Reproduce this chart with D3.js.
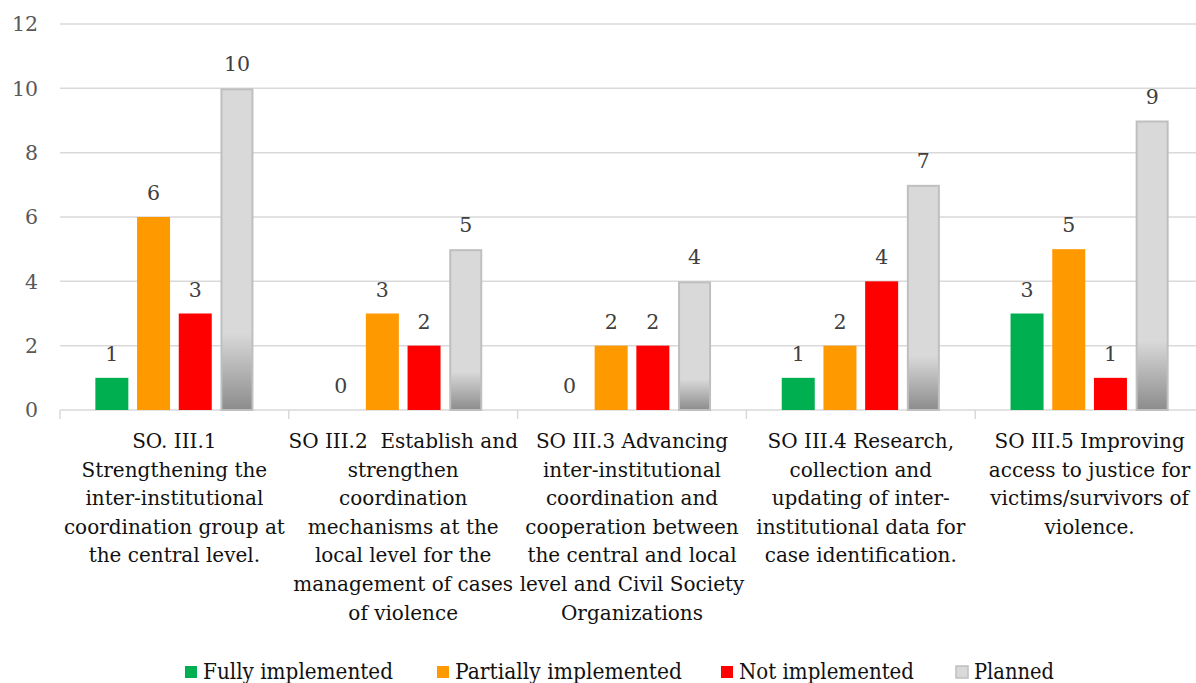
<!DOCTYPE html>
<html>
<head>
<meta charset="utf-8">
<script src="https://cdn.jsdelivr.net/npm/d3@7"></script>
<style>
  html, body { margin: 0; padding: 0; background: #fff; }
  svg { display: block; }
</style>
</head>
<body>
<svg id="chart" width="1196" height="683"></svg>
<script>
const categories = [
  ["SO. III.1", "Strengthening the", "inter-institutional", "coordination group at", "the central level."],
  ["SO III.2  Establish and", "strengthen", "coordination", "mechanisms at the", "local level for the", "management of cases", "of violence"],
  ["SO III.3 Advancing", "inter-institutional", "coordination and", "cooperation between", "the central and local", "level and Civil Society", "Organizations"],
  ["SO III.4 Research,", "collection and", "updating of inter-", "institutional data for", "case identification."],
  ["SO III.5 Improving", "access to justice for", "victims/survivors of", "violence."]
];
const seriesNames = ["Fully implemented", "Partially implemented", "Not implemented", "Planned"];
const fully = [1, 0, 0, 1, 3];
const partially = [6, 3, 2, 2, 5];
const notImpl = [3, 2, 2, 4, 1];
const planned = [10, 5, 4, 7, 9];
const yTicks = [0, 2, 4, 6, 8, 10, 12];

const seriesValues = [fully, partially, notImpl, planned];
const colors = ["#00b050", "#ff9900", "#ff0000", "url(#grayGrad)"];

const svg = d3.select("#chart");
const FONT = "'DejaVu Serif', 'Liberation Serif', serif";

const W = 1196;
const x0 = d3.scaleBand().domain(d3.range(categories.length)).range([60, 1204]).paddingInner(0).paddingOuter(0);
const bw = 33, gap = 8.7;
const groupW = 4 * bw + 3 * gap;
const y = d3.scaleLinear().domain([0, 12]).range([410, 24]);

// gradient for planned bars
const defs = svg.append("defs");
const g = defs.append("linearGradient").attr("id", "grayGrad").attr("x1", 0).attr("y1", 0).attr("x2", 0).attr("y2", 1);
g.append("stop").attr("offset", "0%").attr("stop-color", "#d9d9d9");
g.append("stop").attr("offset", "76%").attr("stop-color", "#d9d9d9");
g.append("stop").attr("offset", "100%").attr("stop-color", "#8c8c8c");

// gridlines
svg.append("g").selectAll("line").data(yTicks).join("line")
  .attr("x1", 60).attr("x2", W)
  .attr("y1", d => y(d)).attr("y2", d => y(d))
  .attr("stroke", "#d9d9d9").attr("stroke-width", 1.5);

// y tick labels
svg.append("g").selectAll("text").data(yTicks).join("text")
  .attr("x", 38).attr("y", d => y(d)).attr("dy", "0.36em")
  .attr("text-anchor", "end")
  .attr("font-family", FONT).attr("font-size", 20.5).attr("fill", "#595959")
  .text(d => d);

// category tick marks
svg.append("g").selectAll("line").data(d3.range(categories.length)).join("line")
  .attr("x1", d => x0(d)).attr("x2", d => x0(d))
  .attr("y1", 410).attr("y2", 419)
  .attr("stroke", "#d9d9d9").attr("stroke-width", 1.5);

// bars
const barX = (ci, si) => x0(ci) + x0.bandwidth() / 2 - groupW / 2 + si * (bw + gap);
seriesValues.forEach((vals, si) => {
  const gg = svg.append("g");
  const isP = si === 3;
  gg.selectAll("rect").data(vals).join("rect")
    .attr("x", (d, i) => barX(i, si) + (isP ? 1 : 0))
    .attr("y", d => y(d) + (isP ? 1 : 0))
    .attr("width", bw - (isP ? 2 : 0))
    .attr("height", d => Math.max(0, y(0) - y(d) - (isP ? 1 : 0)))
    .attr("fill", colors[si])
    .attr("stroke", isP ? "#bfbfbf" : "none")
    .attr("stroke-width", isP ? 2 : 0)
    .style("display", d => d === 0 ? "none" : null);
  gg.selectAll("text").data(vals).join("text")
    .attr("x", (d, i) => barX(i, si) + bw / 2)
    .attr("y", d => y(d) - 17)
    .attr("text-anchor", "middle")
    .attr("font-family", FONT).attr("font-size", 20.5).attr("fill", "#404040")
    .text(d => d);
});

// category labels
const catG = svg.append("g");
categories.forEach((lines, ci) => {
  const t = catG.append("text")
    .attr("text-anchor", "middle")
    .attr("font-family", FONT).attr("font-size", 20).attr("fill", "#111");
  lines.forEach((ln, li) => {
    t.append("tspan")
      .attr("x", x0(ci) + x0.bandwidth() / 2)
      .attr("y", 448 + li * 28.6)
      .attr("xml:space", "preserve")
      .text(ln);
  });
});

// legend
const legX = [185, 437, 721, 956];
const legW = [190, 227, 175, 80];
const leg = svg.append("g");
seriesNames.forEach((name, i) => {
  leg.append("rect")
    .attr("x", legX[i]).attr("y", 666).attr("width", 12).attr("height", 12)
    .attr("fill", i === 3 ? "#d9d9d9" : colors[i])
    .attr("stroke", i === 3 ? "#bfbfbf" : "none").attr("stroke-width", i === 3 ? 1.5 : 0);
  leg.append("text")
    .attr("x", legX[i] + 18).attr("y", 679)
    .attr("font-family", FONT).attr("font-size", 22).attr("fill", "#111")
    .attr("textLength", legW[i]).attr("lengthAdjust", "spacingAndGlyphs")
    .text(name);
});
</script>
</body>
</html>
